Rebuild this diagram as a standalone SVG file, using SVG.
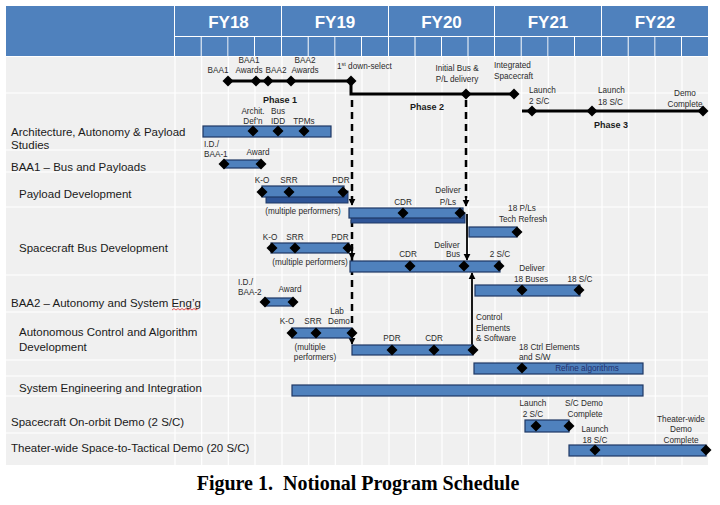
<svg xmlns="http://www.w3.org/2000/svg" xmlns:xlink="http://www.w3.org/1999/xlink" width="720" height="505" viewBox="0 0 720 505">
<style>
.hdr{fill:#4f81bd}
.fy{font-family:"Liberation Sans",Arial,sans-serif;font-weight:bold;font-size:17px;fill:#fff;text-anchor:middle}
.grid{stroke:#ffffff;stroke-width:1.2}
.bar{fill:#4f81bd;stroke:#1f3864;stroke-width:1.2}
.shd{fill:#2f5597;stroke:#1f3864;stroke-width:1}
.lbl{font-family:"Liberation Sans",Arial,sans-serif;font-size:8.2px;fill:#2b2b2b;text-anchor:middle}
.lbs{font-family:"Liberation Sans",Arial,sans-serif;font-size:8.2px;fill:#2b2b2b}
.ph{font-family:"Liberation Sans",Arial,sans-serif;font-size:9px;font-weight:bold;fill:#1a1a1a;text-anchor:middle}
.row{font-family:"Liberation Sans",Arial,sans-serif;font-size:11.5px;fill:#1a1a1a}
.ms{stroke:#000;stroke-width:3;fill:none}
.dash{stroke:#000;stroke-width:2.5;stroke-dasharray:7 5;fill:none}
.sol{stroke:#000;stroke-width:1.8;fill:none}
</style>
<defs>
<path id="dm" d="M0,-5.5 L5.5,0 L0,5.5 L-5.5,0Z" fill="#000"/>
<marker id="ah" viewBox="0 0 10 10" refX="9" refY="5" markerWidth="4" markerHeight="4" orient="auto" markerUnits="strokeWidth">
<path d="M0,0 L10,5 L0,10Z" fill="#000"/>
</marker>
</defs>
<rect width="720" height="505" fill="#ffffff"/>
<g id="header">
<rect class="hdr" x="6" y="6" width="168" height="50"/>
<rect class="hdr" x="175" y="6" width="106" height="30"/>
<rect class="hdr" x="282" y="6" width="106" height="30"/>
<rect class="hdr" x="389" y="6" width="105" height="30"/>
<rect class="hdr" x="495" y="6" width="106" height="30"/>
<rect class="hdr" x="602" y="6" width="106" height="30"/>
<g class="hdr">
<rect x="175" y="37" width="25.7" height="19"/><rect x="201.7" y="37" width="25.7" height="19"/><rect x="228.3" y="37" width="25.7" height="19"/><rect x="255" y="37" width="26" height="19"/>
<rect x="282" y="37" width="25.7" height="19"/><rect x="308.7" y="37" width="25.7" height="19"/><rect x="335.3" y="37" width="25.7" height="19"/><rect x="362" y="37" width="26" height="19"/>
<rect x="389" y="37" width="25.5" height="19"/><rect x="415.5" y="37" width="25.5" height="19"/><rect x="442" y="37" width="25.5" height="19"/><rect x="468.5" y="37" width="25.5" height="19"/>
<rect x="495" y="37" width="25.7" height="19"/><rect x="521.7" y="37" width="25.7" height="19"/><rect x="548.3" y="37" width="25.7" height="19"/><rect x="575" y="37" width="26" height="19"/>
<rect x="602" y="37" width="25.7" height="19"/><rect x="628.7" y="37" width="25.7" height="19"/><rect x="655.3" y="37" width="25.7" height="19"/><rect x="682" y="37" width="26" height="19"/>
</g>
<text class="fy" x="228.5" y="28">FY18</text>
<text class="fy" x="335" y="28">FY19</text>
<text class="fy" x="441.5" y="28">FY20</text>
<text class="fy" x="548" y="28">FY21</text>
<text class="fy" x="655" y="28">FY22</text>
</g>
<g id="body-grid">
<rect x="6" y="57" width="702" height="408" fill="#f0f0f0"/>
<g class="grid">
<line x1="175" y1="57" x2="175" y2="465"/><line x1="201.7" y1="57" x2="201.7" y2="465"/><line x1="228.3" y1="57" x2="228.3" y2="465"/><line x1="255" y1="57" x2="255" y2="465"/>
<line x1="282" y1="57" x2="282" y2="465"/><line x1="308.7" y1="57" x2="308.7" y2="465"/><line x1="335.3" y1="57" x2="335.3" y2="465"/><line x1="362" y1="57" x2="362" y2="465"/>
<line x1="389" y1="57" x2="389" y2="465"/><line x1="415.5" y1="57" x2="415.5" y2="465"/><line x1="442" y1="57" x2="442" y2="465"/><line x1="468.5" y1="57" x2="468.5" y2="465"/>
<line x1="495" y1="57" x2="495" y2="465"/><line x1="521.7" y1="57" x2="521.7" y2="465"/><line x1="548.3" y1="57" x2="548.3" y2="465"/><line x1="575" y1="57" x2="575" y2="465"/>
<line x1="602" y1="57" x2="602" y2="465"/><line x1="628.7" y1="57" x2="628.7" y2="465"/><line x1="655.3" y1="57" x2="655.3" y2="465"/><line x1="682" y1="57" x2="682" y2="465"/>
<line x1="6" y1="93" x2="708" y2="93"/><line x1="6" y1="150" x2="708" y2="150"/><line x1="6" y1="172" x2="708" y2="172"/><line x1="6" y1="207" x2="708" y2="207"/>
<line x1="6" y1="275" x2="708" y2="275"/><line x1="6" y1="312" x2="708" y2="312"/><line x1="6" y1="360" x2="708" y2="360"/><line x1="6" y1="376" x2="708" y2="376"/>
<line x1="6" y1="396" x2="708" y2="396"/><line x1="6" y1="433" x2="708" y2="433"/>
</g>
</g>
<g id="connectors">
<polyline class="ms" points="228,81 351,81 351,94 514,94"/>
<line class="ms" x1="522" y1="111" x2="703" y2="111"/>
<line class="dash" x1="352" y1="100" x2="352" y2="340"/>
<line class="sol" x1="352" y1="196" x2="352" y2="205" marker-end="url(#ah)"/>
<line class="sol" x1="352" y1="250" x2="352" y2="259" marker-end="url(#ah)"/>
<line class="sol" x1="352" y1="335" x2="352" y2="344" marker-end="url(#ah)"/>
<line class="dash" x1="466" y1="100" x2="466" y2="198"/>
<line class="sol" x1="466" y1="196" x2="466" y2="206" marker-end="url(#ah)"/>
<line class="sol" x1="467" y1="214" x2="467" y2="260" marker-end="url(#ah)"/>
<line class="sol" x1="472" y1="350" x2="472" y2="273" marker-end="url(#ah)"/>
</g>
<g id="milestones">
<use xlink:href="#dm" x="228" y="81"/><use xlink:href="#dm" x="256" y="81"/><use xlink:href="#dm" x="268" y="81"/><use xlink:href="#dm" x="291" y="81"/><use xlink:href="#dm" x="351" y="81"/>
<use xlink:href="#dm" x="466" y="94"/><use xlink:href="#dm" x="514" y="94"/>
<use xlink:href="#dm" x="532" y="111"/><use xlink:href="#dm" x="592" y="111"/><use xlink:href="#dm" x="703" y="111"/>
<text class="lbl" x="218" y="73">BAA1</text>
<text class="lbl" x="249" y="63">BAA1</text><text class="lbl" x="249" y="73">Awards</text>
<text class="lbl" x="276" y="73">BAA2</text>
<text class="lbl" x="305" y="63">BAA2</text><text class="lbl" x="305" y="73">Awards</text>
<text class="lbs" x="337" y="69">1<tspan font-size="5.5" dy="-3">st</tspan><tspan dy="3"> down-select</tspan></text>
<text class="lbl" x="457" y="71">Initial Bus &amp;</text><text class="lbl" x="457" y="82">P/L delivery</text>
<text class="lbs" x="494" y="68">Integrated</text><text class="lbs" x="494" y="79">Spacecraft</text>
<text class="ph" x="280" y="103">Phase 1</text>
<text class="ph" x="427" y="110">Phase 2</text>
<text class="ph" x="611" y="128">Phase 3</text>
<text class="lbs" x="529" y="93">Launch</text><text class="lbs" x="529" y="104">2 S/C</text>
<text class="lbs" x="598" y="93">Launch</text><text class="lbs" x="598" y="105">18 S/C</text>
<text class="lbl" x="685" y="96">Demo</text><text class="lbl" x="685" y="107">Complete</text>
</g>
<g id="arch-studies">
<text class="row" x="11" y="136">Architecture, Autonomy &amp; Payload</text>
<text class="row" x="11" y="149">Studies</text>
<rect class="bar" x="203" y="126" width="128" height="11"/>
<use xlink:href="#dm" x="253" y="131"/><use xlink:href="#dm" x="278" y="131"/><use xlink:href="#dm" x="304" y="131"/>
<text class="lbl" x="253" y="114">Archit.</text><text class="lbl" x="253" y="124">Def’n</text>
<text class="lbl" x="278" y="114">Bus</text><text class="lbl" x="278" y="124">IDD</text>
<text class="lbl" x="304" y="124">TPMs</text>
</g>
<g id="baa1">
<text class="row" x="11" y="171">BAA1 – Bus and Payloads</text>
<rect class="bar" x="224" y="160" width="37" height="8"/>
<use xlink:href="#dm" x="224" y="164"/><use xlink:href="#dm" x="261" y="164"/>
<text class="lbs" x="204" y="147">I.D./</text><text class="lbs" x="204" y="157">BAA-1</text>
<text class="lbl" x="258" y="155">Award</text>
</g>
<g id="payload-dev">
<text class="row" x="19" y="198">Payload Development</text>
<rect class="shd" x="266" y="191" width="82" height="12"/>
<rect class="bar" x="262" y="186" width="82" height="11"/>
<use xlink:href="#dm" x="262" y="192"/><use xlink:href="#dm" x="289" y="192"/><use xlink:href="#dm" x="343" y="192"/>
<text class="lbl" x="262" y="183">K-O</text><text class="lbl" x="289" y="183">SRR</text><text class="lbl" x="341" y="183">PDR</text>
<text class="lbl" x="303" y="214">(multiple performers)</text>
<rect class="shd" x="351" y="213" width="114" height="10"/>
<rect class="bar" x="349" y="208" width="114" height="10"/>
<use xlink:href="#dm" x="403" y="213"/><use xlink:href="#dm" x="460" y="213"/>
<text class="lbl" x="403" y="205">CDR</text>
<text class="lbl" x="448" y="193">Deliver</text><text class="lbl" x="448" y="205">P/Ls</text>
<rect class="bar" x="469" y="227" width="48" height="10"/>
<use xlink:href="#dm" x="517" y="232"/>
<text class="lbl" x="522" y="211">18 P/Ls</text><text class="lbl" x="523" y="222">Tech Refresh</text>
</g>
<g id="bus-dev">
<text class="row" x="19" y="252">Spacecraft Bus Development</text>
<rect class="bar" x="271" y="243" width="78" height="10"/>
<use xlink:href="#dm" x="272" y="248"/><use xlink:href="#dm" x="295" y="248"/><use xlink:href="#dm" x="348" y="248"/>
<text class="lbl" x="270" y="240">K-O</text><text class="lbl" x="295" y="240">SRR</text><text class="lbl" x="340" y="240">PDR</text>
<text class="lbl" x="310" y="265">(multiple performers)</text>
<rect class="bar" x="350" y="261" width="150" height="11"/>
<use xlink:href="#dm" x="410" y="266"/><use xlink:href="#dm" x="464" y="266"/><use xlink:href="#dm" x="499" y="266"/>
<text class="lbl" x="408" y="257">CDR</text>
<text class="lbl" x="447" y="248">Deliver</text><text class="lbl" x="453" y="257">Bus</text>
<text class="lbl" x="500" y="257">2 S/C</text>
<rect class="bar" x="475" y="285" width="105" height="11"/>
<use xlink:href="#dm" x="522" y="290"/><use xlink:href="#dm" x="579" y="290"/>
<text class="lbl" x="532" y="271">Deliver</text><text class="lbl" x="531" y="282">18 Buses</text>
<text class="lbl" x="580" y="282">18 S/C</text>
</g>
<g id="baa2">
<text class="row" x="11" y="307">BAA2 – Autonomy and System Eng’g</text>
<path d="M172,310 l2,-1.5 l2,1.5 l2,-1.5 l2,1.5 l2,-1.5 l2,1.5 l2,-1.5 l2,1.5 l2,-1.5 l2,1.5 l2,-1.5 l2,1.5 l2,-1.5" fill="none" stroke="#e03030" stroke-width="0.8"/>
<rect class="bar" x="265" y="298" width="28" height="8"/>
<use xlink:href="#dm" x="265" y="302"/><use xlink:href="#dm" x="293" y="302"/>
<text class="lbs" x="238" y="285">I.D./</text><text class="lbs" x="238" y="295">BAA-2</text>
<text class="lbl" x="290" y="292">Award</text>
</g>
<g id="auto-control">
<text class="row" x="19" y="336">Autonomous Control and Algorithm</text>
<text class="row" x="19" y="351">Development</text>
<rect class="bar" x="292" y="328" width="60" height="10"/>
<use xlink:href="#dm" x="292" y="333"/><use xlink:href="#dm" x="316" y="333"/><use xlink:href="#dm" x="352" y="333"/>
<text class="lbl" x="287" y="324">K-O</text><text class="lbl" x="313" y="324">SRR</text>
<text class="lbl" x="337" y="314">Lab</text><text class="lbl" x="339" y="324">Demo</text>
<text class="lbl" x="310" y="350">(multiple</text><text class="lbl" x="315" y="360">performers)</text>
<rect class="bar" x="352" y="345" width="121" height="10"/>
<use xlink:href="#dm" x="392" y="350"/><use xlink:href="#dm" x="434" y="350"/><use xlink:href="#dm" x="473" y="350"/>
<text class="lbl" x="392" y="341">PDR</text><text class="lbl" x="434" y="341">CDR</text>
<text class="lbs" x="476" y="320">Control</text><text class="lbs" x="476" y="331">Elements</text><text class="lbs" x="476" y="341">&amp; Software</text>
<text class="lbs" x="519" y="350">18 Ctrl Elements</text><text class="lbs" x="519" y="360">and S/W</text>
<rect class="bar" x="474" y="363" width="169" height="11"/>
<use xlink:href="#dm" x="522" y="368"/>
<text class="lbl" x="587" y="371" style="fill:#1f2f6e">Refine algorithms</text>
</g>
<g id="sys-eng">
<text class="row" x="19" y="392">System Engineering and Integration</text>
<rect class="bar" x="292" y="385" width="351" height="11"/>
</g>
<g id="onorbit-demo">
<text class="row" x="11" y="426">Spacecraft On-orbit Demo (2 S/C)</text>
<rect class="bar" x="525" y="420" width="44" height="12"/>
<use xlink:href="#dm" x="536" y="426"/><use xlink:href="#dm" x="569" y="426"/>
<text class="lbl" x="533" y="406">Launch</text><text class="lbl" x="533" y="417">2 S/C</text>
<text class="lbl" x="584" y="406">S/C Demo</text><text class="lbl" x="585" y="417">Complete</text>
</g>
<g id="theater-demo">
<text class="row" x="11" y="452">Theater-wide Space-to-Tactical Demo (20 S/C)</text>
<rect class="bar" x="569" y="445" width="137" height="11"/>
<use xlink:href="#dm" x="595" y="450"/><use xlink:href="#dm" x="706" y="450"/>
<text class="lbl" x="595" y="432">Launch</text><text class="lbl" x="595" y="443">18 S/C</text>
<text class="lbl" x="681" y="422">Theater-wide</text><text class="lbl" x="681" y="432">Demo</text><text class="lbl" x="681" y="443">Complete</text>
</g>
<g id="caption">
<text x="358" y="490" xml:space="preserve" style="font-family:'Liberation Serif','Times New Roman',serif;font-weight:bold;font-size:20px;fill:#000;text-anchor:middle">Figure 1.  Notional Program Schedule</text>
</g>
</svg>
